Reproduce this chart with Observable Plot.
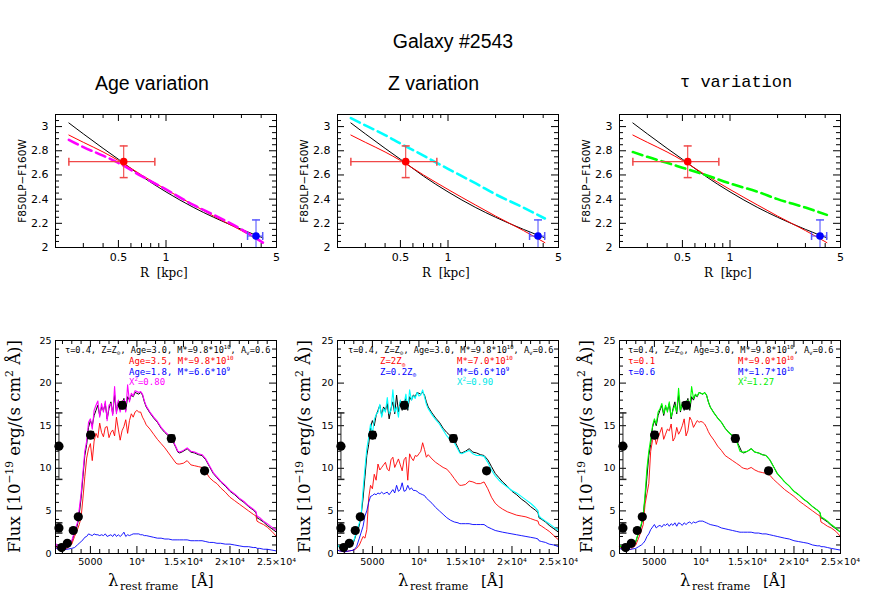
<!DOCTYPE html>
<html><head><meta charset="utf-8">
<script src="https://cdn.jsdelivr.net/npm/d3@7"></script>
<script src="https://cdn.jsdelivr.net/npm/@observablehq/plot@0.6"></script>
<style>
body{margin:0;background:#fff;}
#wrap{position:relative;width:872px;height:597px;overflow:hidden;background:#fff;}
.panel{position:absolute;}
.panel svg{overflow:visible;}
</style></head><body><div id="wrap"></div>
<script>
// ---------- Top row: colour profile F850LP-F160W vs R ----------
const rGrid = [0.243, 0.3, 0.4, 0.5, 0.7, 1, 1.5, 2, 3, 4.1];
const topBlack = [3.03, 2.94, 2.82, 2.73, 2.59, 2.46, 2.33, 2.25, 2.15, 2.08];
const topRed   = [2.93, 2.87, 2.79, 2.72, 2.60, 2.48, 2.35, 2.26, 2.14, 2.04];
const topAge   = [2.89, 2.83, 2.76, 2.70, 2.59, 2.48, 2.35, 2.27, 2.15, 2.04];
const topZ     = [3.07, 3.01, 2.93, 2.86, 2.76, 2.65, 2.53, 2.44, 2.33, 2.24];
const topTau   = [2.79, 2.75, 2.70, 2.66, 2.60, 2.53, 2.46, 2.40, 2.33, 2.27];
const rObs = [0.54, 3.71];
const cObs = [2.71, 2.095];
const rLo = [0.243, 3.28];
const rHi = [0.85, 4.09];
const cLo = [2.578, 1.96];
const cHi = [2.84, 2.228];
const obsColor = ["#ff0000", "#0000ff"];
const errColor = ["#f04848", "#5858ff"];
const topXMajor = [0.5, 1, 5];
const topXLabels = ["0.5", "1", "5"];
const topXMinor = [0.3, 0.4, 0.6, 0.7, 0.8, 0.9, 2, 3, 4];
const topYMajor = [2, 2.2, 2.4, 2.6, 2.8, 3];
const topYMinor = [2.05,2.1,2.15,2.25,2.3,2.35,2.45,2.5,2.55,2.65,2.7,2.75,2.85,2.9,2.95,3.05];

// ---------- Bottom row: SEDs ----------
const lam = [1250,1500,2000,2500,3000,3300,3600,3800,
 4000,4200,4400,4600,4800,5000,5200,5400,5600,5800,6000,6200,6400,6600,6800,7000,7200,7400,7600,7800,8000,8200,8400,8600,8800,9000,9200,9400,9600,9800,10000,10200,10400,10600,10800,
 11000,11400,11800,12200,12600,13000,13400,13800,
 14200,14400,14600,
 15000,15400,15800,16200,16600,17000,17400,17800,
 18200,18600,19000,19500,20000,20500,21000,21500,22000,22500,22800,22900,
 23200,23600,24000,24500,25000];
const specBest = [0.9,0.7,0.6,0.8,1.4,2.4,3.3,4.6,
 6.5,9.0,11.5,12.8,14.8, 15.6,15.0,16.2,16.8,17.4, 16.2,17.2,16.8,17.6,15.8, 17.0,17.8,16.4,18.6,16.6, 17.8,16.8,17.6,18.2,16.8, 18.4,18.0,18.6,18.4,18.9, 18.8,18.7,18.9,18.6,17.8,
 17.2,16.5,15.9,15.4,14.7,14.2,13.8,13.3,
 12.4,11.9,11.8,
 12.0,12.3,11.9,11.8,11.6,11.5,11.0,10.2,
 9.4,8.9,8.4,7.9,7.3,6.9,6.4,6.0,5.5,5.1,4.8,4.2,
 4.0,3.7,3.3,2.9,2.5];
const ageFit = [1.2,0.8,0.6,0.9,1.5,2.6,3.6,5.2,
 7.0,9.5,12.0,13.2,15.4, 15.8,14.6,16.8,17.4,17.9, 16.0,17.6,16.6,17.9,15.6, 17.4,17.6,16.2,19.6,16.4, 18.0,16.6,17.8,18.0,16.6, 19.8,17.8,18.8,18.5,19.1, 19.0,18.9,19.0,18.7,17.9,
 17.3,16.6,16.0,15.5,14.8,14.3,13.9,13.4,
 12.5,12.0,11.9,
 12.1,12.4,12.0,11.9,11.7,11.6,11.1,10.3,
 9.5,9.0,8.5,8.0,7.4,7.0,6.5,6.1,5.6,5.2,4.9,4.4,
 4.2,3.8,3.5,3.1,2.7];
const ageOld = [0.8,0.5,0.4,0.6,1.1,2.0,2.8,3.4,
 4.2,6.5,9.0,11.2,12.3, 12.9,10.9,13.2,14.1,13.6, 15.3,14.2,13.7,14.8,14.9, 13.6,14.2,14.5,13.8,16.0, 14.6,13.3,14.4,14.9,15.7, 14.1,15.6,16.4,16.0,16.6, 16.8,16.6,16.6,16.0,15.6,
 15.1,14.6,14.0,13.4,12.9,12.4,11.8,11.2,
 10.6,10.5,10.5,
 10.6,10.9,10.4,10.3,10.2,10.1,9.6,8.9,
 8.5,8.2,7.7,7.2,6.6,6.2,5.8,5.4,5.0,4.6,4.4,3.8,
 3.6,3.4,3.1,2.6,2.0];
const ageYoung = [0.7,0.5,0.5,0.5,0.6,0.7,1.0,1.2,
 1.4,1.6,1.9,2.0,2.3, 2.2,2.1,2.3,2.2,2.2, 2.1,2.2,2.1,2.3,2.0, 2.1,2.2,2.0,2.3,2.0, 2.2,2.0,2.2,2.5,2.0, 2.2,2.1,2.2,2.3,2.3, 2.3,2.3,2.2,2.2,2.1,
 2.1,2.0,1.9,1.8,1.8,1.7,1.7,1.6,
 1.6,1.6,1.6,
 1.6,1.6,1.5,1.5,1.5,1.5,1.4,1.3,
 1.3,1.2,1.2,1.1,1.1,1.0,0.9,0.8,0.8,0.7,0.7,0.6,
 0.6,0.5,0.5,0.4,0.3];
const zFit = [1.0,0.7,0.6,0.8,1.5,2.6,3.6,4.7,
 7.5,10.0,12.3,13.6,15.2, 14.0,15.7,16.3,16.6,17.5, 16.0,17.0,16.6,18.3,16.4, 16.8,19.2,16.6,17.2,16.0, 18.0,17.0,17.5,18.7,17.0, 19.2,18.0,18.5,18.2,18.9, 18.5,18.6,19.2,18.4,17.5,
 17.0,16.3,15.7,15.2,14.5,13.8,13.3,13.0,
 12.2,11.8,11.7,
 11.9,12.1,11.7,11.5,11.5,11.4,10.7,9.8,
 9.1,8.6,8.2,7.8,7.4,7.1,6.7,6.3,5.9,5.4,5.0,4.4,
 4.1,3.8,3.5,3.1,2.7];
const zHigh = [0.4,0.3,0.2,0.3,0.4,0.6,1.0,1.5,
 2.0,1.8,2.8,6.5,8.0, 7.6,9.3,8.6,10.5,9.8, 10.1,10.4,10.7,9.9,9.7, 11.0,11.3,10.1,10.6,11.1, 10.4,9.7,11.0,11.3,8.6, 11.7,11.2,10.9,11.5,11.4, 11.7,12.0,13.0,12.2,11.3,
 11.6,11.1,10.7,10.4,10.1,9.9,9.4,8.8,
 8.2,8.0,8.0,
 8.1,8.5,8.4,8.2,8.2,8.4,7.6,6.6,
 5.9,5.5,5.2,4.9,4.7,4.5,4.4,4.3,4.1,3.9,3.8,3.4,
 3.2,2.9,2.6,2.1,1.6];
const zLow = [0.4,0.3,0.2,0.3,0.4,0.8,1.8,2.5,
 3.2,4.4,5.0,6.0,6.7, 6.8,7.0,6.9,7.1,7.0, 7.2,7.0,7.1,7.2,6.9, 7.2,7.5,7.1,8.0,7.3, 7.5,8.3,7.3,7.4,8.0, 7.5,7.7,7.4,7.4,7.3, 7.1,7.0,6.9,6.8,6.5,
 6.3,5.9,5.4,5.0,4.6,4.2,3.9,3.7,
 3.6,3.5,3.5,
 3.5,3.5,3.4,3.4,3.4,3.4,3.1,2.9,
 2.7,2.6,2.5,2.4,2.3,2.2,2.1,2.0,1.9,1.8,1.7,1.5,
 1.4,1.3,1.1,1.0,0.8];
const tauFit = [1.0,0.7,0.6,0.8,1.4,2.5,3.5,4.4,
 7.0,10.0,12.0,13.4,15.0, 15.8,15.2,16.6,17.0,17.6, 16.4,17.4,16.6,17.8,16.0, 16.8,17.4,16.6,19.4,16.8, 17.6,17.0,17.4,18.0,17.0, 19.6,18.2,18.7,18.5,18.9, 18.8,18.7,18.9,18.6,17.8,
 17.2,16.5,15.9,15.4,14.7,14.2,13.8,13.3,
 12.0,11.9,11.9,
 12.0,12.3,11.9,11.8,11.6,11.5,11.0,10.2,
 9.4,8.9,8.4,7.9,7.3,6.9,6.4,6.0,5.5,5.1,4.8,4.3,
 4.1,3.8,3.4,3.0,2.5];
const tauShort = [0.8,0.5,0.4,0.5,1.0,1.8,2.7,3.4,
 5.8,7.0,8.2,12.0,13.3, 14.0,12.8,13.6,14.2,14.8, 13.4,14.0,14.6,14.4,15.2, 13.2,13.6,14.8,14.0,14.4, 15.0,15.8,13.8,14.4,16.0, 15.6,14.8,15.2,15.6,15.4, 15.5,15.4,15.2,14.8,14.3,
 13.9,13.3,12.6,12.1,11.5,11.2,10.9,10.6,
 10.3,10.1,10.0,
 9.9,10.1,9.8,9.6,9.5,9.4,9.2,8.7,
 8.3,7.9,7.5,7.1,6.7,6.2,5.8,5.4,5.0,4.6,4.4,3.7,
 3.5,3.2,3.0,2.6,2.0];
const tauLong = [0.6,0.5,0.4,0.5,0.6,0.8,1.0,1.2,
 1.5,2.0,2.3,2.8,3.1, 3.4,3.0,3.2,3.3,3.1, 3.4,3.3,3.5,3.2,3.5, 3.3,3.6,3.2,3.6,3.5, 3.3,3.6,3.4,3.6,3.7, 3.5,3.7,3.6,3.7,3.8, 3.8,3.8,3.7,3.6,3.5,
 3.4,3.3,3.2,3.0,2.9,2.8,2.7,2.6,
 2.5,2.5,2.5,
 2.5,2.5,2.4,2.4,2.3,2.3,2.2,2.1,
 2.0,1.9,1.8,1.7,1.5,1.4,1.3,1.2,1.0,0.9,0.9,0.8,
 0.8,0.7,0.6,0.5,0.4];
const obsLam  = [1620, 1620, 1910, 2520, 3160, 3700, 5020, 8430, 13700, 17270];
const obsFlux = [12.6, 3.0, 0.7, 1.2, 2.7, 4.3, 13.9, 17.4, 13.5, 9.7];
const obsErr  = [3.9, 0.6, 0.15, 0.15, 0.2, 0.25, 0.4, 0.4, 0.4, 0.3];
const botXMajor = [5000, 10000, 15000, 20000, 25000];
const botXLabels = ["5000", "10⁴", "1.5×10⁴", "2×10⁴", "2.5×10⁴"];
const botXMinor = [2000,3000,4000,6000,7000,8000,9000,11000,12000,13000,14000,16000,17000,18000,19000,21000,22000,23000,24000];
const botYMajor = [0, 5, 10, 15, 20, 25];
const botYMinor = [1,2,3,4,6,7,8,9,11,12,13,14,16,17,18,19,21,22,23,24];

// ---------- layout ----------
const wrap = document.getElementById("wrap");
const FL = [55, 337, 619];
const FW = 221;
const TOPY = 114, TOPH = 133;
const BOTY = 340, BOTH = 213;

const hbar = {draw(ctx, size){ const r = Math.sqrt(size/Math.PI); ctx.moveTo(-r,0); ctx.lineTo(r,0); }};
const vbar = {draw(ctx, size){ const r = Math.sqrt(size/Math.PI); ctx.moveTo(0,-r); ctx.lineTo(0,r); }};

function place(svg, left, top){
  const d = document.createElement("div");
  d.className = "panel"; d.style.left = left + "px"; d.style.top = top + "px";
  d.appendChild(svg); wrap.appendChild(d);
}
const baseStyle = {fontFamily: "DejaVu Sans", fontSize: "10.5px", color: "black", background: "transparent", overflow: "visible"};

function inwardTicks(xMaj, xMin, yMaj, yMin, H, W, lMaj, lMin){
  return [
    Plot.tickX(xMin, {insetTop: H - lMin, stroke: "black"}),
    Plot.tickX(xMin, {insetBottom: H - lMin, stroke: "black"}),
    Plot.tickX(xMaj, {insetTop: H - lMaj, stroke: "black"}),
    Plot.tickX(xMaj, {insetBottom: H - lMaj, stroke: "black"}),
    Plot.tickY(yMin, {insetRight: W - lMin, stroke: "black"}),
    Plot.tickY(yMin, {insetLeft: W - lMin, stroke: "black"}),
    Plot.tickY(yMaj, {insetRight: W - lMaj, stroke: "black"}),
    Plot.tickY(yMaj, {insetLeft: W - lMaj, stroke: "black"})
  ];
}

function topPanel(i, dashVals, dashColor){
  const mL = 45, mR = 12, mT = 6, mB = 24;
  const rows = rGrid.map((r, k) => ({r, black: topBlack[k], red: topRed[k], dash: dashVals[k]}));
  const obs = rObs.map((r, k) => ({r, c: cObs[k], rl: rLo[k], rh: rHi[k], cl: cLo[k], ch: cHi[k], col: obsColor[k], ecol: errColor[k]}));
  const svg = Plot.plot({
    width: FW + mL + mR, height: TOPH + mT + mB,
    marginLeft: mL, marginRight: mR, marginTop: mT, marginBottom: mB,
    style: baseStyle,
    x: {type: "log", domain: [0.2, 5], label: null, axis: null},
    y: {domain: [2, 3.1], label: null},
    color: {type: "identity"},
    marks: [
      Plot.text(topXMajor, {x: d => d, text: (d, k) => topXLabels[k], frameAnchor: "bottom", lineAnchor: "middle", dy: 10, fontSize: 11}),
      Plot.axisY(topYMajor, {tickSize: 0, tickPadding: 7, label: null, tickFormat: d => (d % 1 === 0 ? String(d) : d.toFixed(1)), fontSize: 11}),
      ...inwardTicks(topXMajor, topXMinor, topYMajor, topYMinor, TOPH, FW, 7, 4),
      Plot.line(rows, {x: "r", y: "black", stroke: "black", strokeWidth: 1, curve: "monotone-x"}),
      Plot.line(rows, {x: "r", y: "red", stroke: "#ff0000", strokeWidth: 1, curve: "monotone-x"}),
      Plot.line(rows, {x: "r", y: "dash", stroke: dashColor, strokeWidth: 2.6, strokeDasharray: "10,5", curve: "monotone-x"}),
      Plot.ruleY(obs, {y: "c", x1: "rl", x2: "rh", stroke: "ecol", strokeWidth: 1.1}),
      Plot.ruleX(obs, {x: "r", y1: "cl", y2: "ch", stroke: "ecol", strokeWidth: 1.1, clip: true}),
      Plot.dot(obs, {x: "rl", y: "c", symbol: vbar, r: 4, fill: "none", stroke: "ecol"}),
      Plot.dot(obs, {x: "rh", y: "c", symbol: vbar, r: 4, fill: "none", stroke: "ecol"}),
      Plot.dot(obs, {x: "r", y: "ch", symbol: hbar, r: 4, fill: "none", stroke: "ecol"}),
      Plot.dot(obs, {x: "r", y: "cl", symbol: hbar, r: 4, fill: "none", stroke: "ecol", clip: true}),
      Plot.dot(obs, {x: "r", y: "c", r: 3.8, fill: "col", stroke: "none"}),
      Plot.frame({stroke: "black", strokeWidth: 1})
    ]
  });
  place(svg, FL[i] - mL, TOPY - mT);
}

function botPanel(i, fit, fitColor, alt1, alt2){
  const mL = 35, mR = 24, mT = 6, mB = 20;
  const obs = obsLam.map((l, k) => ({l, f: obsFlux[k], lo: obsFlux[k] - obsErr[k], hi: obsFlux[k] + obsErr[k]}));
  const svg = Plot.plot({
    width: FW + mL + mR, height: BOTH + mT + mB,
    marginLeft: mL, marginRight: mR, marginTop: mT, marginBottom: mB,
    style: {...baseStyle, fontSize: "9.5px"},
    x: {domain: [1250, 25000], label: null},
    y: {domain: [0, 25], label: null},
    marks: [
      Plot.axisX(botXMajor, {tickSize: 0, tickPadding: 5, label: null, tickFormat: d => botXLabels[botXMajor.indexOf(d)], fontSize: 9.5}),
      Plot.axisY(botYMajor, {tickSize: 0, tickPadding: 4, label: null, tickFormat: d => String(d), fontSize: 9.5}),
      ...inwardTicks(botXMajor, botXMinor, botYMajor, botYMinor, BOTH, FW, 7, 4),
      Plot.lineY(specBest, {x: lam, stroke: "black", strokeWidth: 1}),
      Plot.lineY(alt1, {x: lam, stroke: "#ff0000", strokeWidth: 0.9}),
      Plot.lineY(alt2, {x: lam, stroke: "#0000ff", strokeWidth: 0.9}),
      Plot.lineY(fit, {x: lam, stroke: fitColor, strokeWidth: 1.1}),
      Plot.ruleX(obs, {x: "l", y1: "lo", y2: "hi", stroke: "#222", strokeWidth: 1}),
      Plot.dot(obs, {x: "l", y: "lo", symbol: hbar, r: 3.5, fill: "none", stroke: "#222"}),
      Plot.dot(obs, {x: "l", y: "hi", symbol: hbar, r: 3.5, fill: "none", stroke: "#222"}),
      Plot.dot(obs, {x: "l", y: "f", r: 4.6, fill: "black", stroke: "none"}),
      Plot.frame({stroke: "black", strokeWidth: 1})
    ]
  });
  place(svg, FL[i] - mL, BOTY - mT);
}

topPanel(0, topAge, "#ff00ff");
topPanel(1, topZ, "#00ffff");
topPanel(2, topTau, "#00ff00");
botPanel(0, ageFit, "#ff00ff", ageOld, ageYoung);
botPanel(1, zFit, "#00ffff", zHigh, zLow);
botPanel(2, tauFit, "#00ff00", tauShort, tauLong);

// ---------- text overlay ----------
const NS = "http://www.w3.org/2000/svg";
const ov = document.createElementNS(NS, "svg");
ov.setAttribute("width", 872); ov.setAttribute("height", 597);
ov.style.cssText = "position:absolute;left:0;top:0;pointer-events:none;overflow:visible";
wrap.appendChild(ov);
function T(x, y, parts, o = {}){
  const t = document.createElementNS(NS, "text");
  t.setAttribute("x", x); t.setAttribute("y", y);
  t.setAttribute("font-family", o.font || "DejaVu Sans");
  const size = o.size || 10;
  t.setAttribute("font-size", size);
  t.setAttribute("fill", o.color || "black");
  if (o.anchor) t.setAttribute("text-anchor", o.anchor);
  if (o.rotate) t.setAttribute("transform", `rotate(-90 ${x} ${y})`);
  t.style.whiteSpace = "pre";
  let shift = 0;
  for (const p of (typeof parts === "string" ? [parts] : parts)) {
    const s = document.createElementNS(NS, "tspan");
    let want = 0, txt = p, fs = size;
    if (typeof p === "object") {
      if (p.s !== undefined) { txt = p.s; want = -0.42 * size; fs = size * 0.65; }
      else if (p.b !== undefined) { txt = p.b; want = 0.28 * size; fs = size * 0.7; }
    }
    s.textContent = txt;
    if (fs !== size) s.setAttribute("font-size", fs);
    if (want !== shift) { s.setAttribute("dy", want - shift); shift = want; }
    t.appendChild(s);
  }
  ov.appendChild(t);
}
// titles
T(453, 48, "Galaxy #2543", {font: "Liberation Sans", size: 19.5, anchor: "middle"});
T(95, 90, "Age variation", {font: "Liberation Sans", size: 19.5});
T(388, 90, "Z variation", {font: "Liberation Sans", size: 19.5});
T(680, 87, "τ variation", {font: "Liberation Mono", size: 17});
// top axis labels
for (let i = 0; i < 3; i++) {
  T(FL[i] - 33 + 3.8, 181, "F850LP−F160W", {size: 10.5, anchor: "middle", rotate: true});
  T(FL[i] + 85, 277, "R\u00A0\u00A0[kpc]", {font: "DejaVu Serif", size: 12});
}
// bottom axis labels
const fluxX = [19.5, 310, 592];
const lamX = [108, 398, 680];
for (let i = 0; i < 3; i++) {
  T(fluxX[i], 446.5, ["Flux [10", {s: "−19"}, " erg/(s cm", {s: "2"}, " Å)]"], {font: "DejaVu Serif", size: 16.5, anchor: "middle", rotate: true});
  T(lamX[i], 586, "λ", {font: "DejaVu Serif", size: 16.5});
  T(lamX[i] + 12, 590, "rest frame", {font: "DejaVu Serif", size: 11});
  T(lamX[i] + 83, 586, "[Å]", {font: "DejaVu Serif", size: 15});
}
// annotations
const AF = "DejaVu Sans Mono", AS = 8.6;
const head = ["τ=0.4, Z=Z", {b: "⊙"}, ", Age=3.0, M*=9.8*10", {s: "10"}, ", A", {b: "v"}, "=0.6"];
T(65, 353, head, {font: AF, size: AS});
T(348, 353, head, {font: AF, size: AS});
T(628, 353, head, {font: AF, size: AS});
T(129, 364, ["Age=3.5, M*=9.8*10", {s: "10"}], {font: AF, size: 9, color: "#ff0000"});
T(129, 374.5, ["Age=1.8, M*=6.6*10", {s: "9"}], {font: AF, size: 9, color: "#0000ff"});
T(129, 385, ["X", {s: "2"}, "=0.80"], {font: AF, size: 9, color: "#ff00ff"});
T(380, 364, ["Z=2Z", {b: "⊙"}], {font: AF, size: 9, color: "#ff0000"});
T(457, 364, ["M*=7.0*10", {s: "10"}], {font: AF, size: 9, color: "#ff0000"});
T(380, 374.5, ["Z=0.2Z", {b: "⊙"}], {font: AF, size: 9, color: "#0000ff"});
T(457, 374.5, ["M*=6.6*10", {s: "9"}], {font: AF, size: 9, color: "#0000ff"});
T(457, 385, ["X", {s: "2"}, "=0.90"], {font: AF, size: 9, color: "#00e8e8"});
T(628, 364, "τ=0.1", {font: AF, size: 9, color: "#ff0000"});
T(738, 364, ["M*=9.0*10", {s: "10"}], {font: AF, size: 9, color: "#ff0000"});
T(628, 374.5, "τ=0.6", {font: AF, size: 9, color: "#0000ff"});
T(738, 374.5, ["M*=1.7*10", {s: "10"}], {font: AF, size: 9, color: "#0000ff"});
T(738, 385, ["X", {s: "2"}, "=1.27"], {font: AF, size: 9, color: "#00ee00"});
</script></body></html>
